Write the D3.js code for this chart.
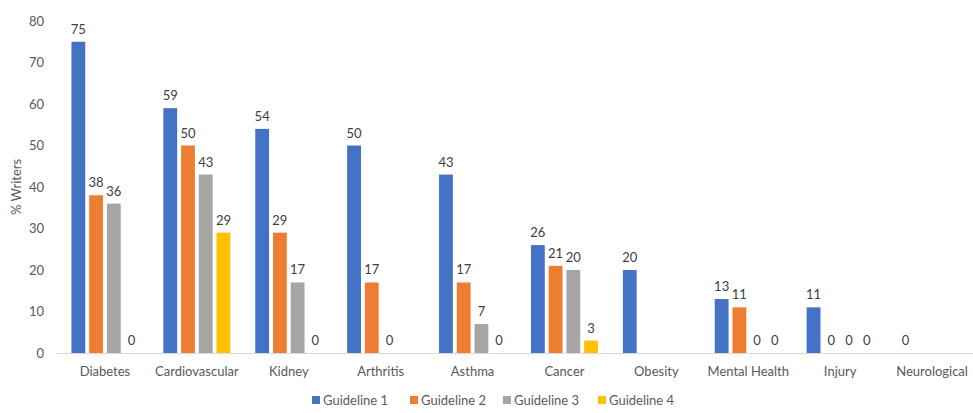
<!DOCTYPE html>
<html><head><meta charset="utf-8">
<script src="https://cdn.jsdelivr.net/npm/d3@7"></script>
<style>body{margin:0;background:#fff}svg{display:block;font-family:Lato,"Open Sans",sans-serif}</style>
</head><body><svg id="c" width="973" height="413"></svg>
<script>
const categories = ["Diabetes","Cardiovascular","Kidney","Arthritis","Asthma","Cancer","Obesity","Mental Health","Injury","Neurological"];
const seriesNames = ["Guideline 1","Guideline 2","Guideline 3","Guideline 4"];
const guideline1 = [75,59,54,50,43,26,20,13,11,0];
const guideline2 = [38,50,29,17,17,21,null,11,0,null];
const guideline3 = [36,43,17,0,7,20,null,0,0,null];
const guideline4 = [0,29,0,null,0,3,null,0,0,null];
const yTicks = [0,10,20,30,40,50,60,70,80];
const colors = ["#4472C4","#ED7D31","#A5A5A5","#FFC000"];
const series = [guideline1,guideline2,guideline3,guideline4];

const svg = d3.select("#c");
const x = d3.scaleBand().domain(categories).range([59,978]);
const xs = d3.scaleBand().domain(seriesNames).range([0,67]).paddingInner(0.22);
const y = d3.scaleLinear().domain([0,80]).range([353,21]);
const x0 = cat => x(cat) + (x.bandwidth()-67)/2;

// y axis labels
const ya = svg.append("g").attr("transform","translate(44,0)")
  .call(d3.axisLeft(y).tickValues(yTicks).tickSize(0).tickPadding(0));
ya.select(".domain").remove();
ya.selectAll("text").attr("font-size",13).attr("fill","#595959").attr("font-family","Lato");

// baseline
svg.append("line").attr("x1",57).attr("x2",973).attr("y1",y(0)+0.5).attr("y2",y(0)+0.5)
  .attr("stroke","#d9d9d9").attr("stroke-width",1);

// bars
series.forEach((vals,si)=>{
  const g = svg.append("g");
  const d = categories.map((c,i)=>({c,v:vals[i]})).filter(e=>e.v!==null);
  g.selectAll("rect").data(d).join("rect")
    .attr("x",e=>x0(e.c)+xs(seriesNames[si]))
    .attr("width",xs.bandwidth())
    .attr("y",e=>y(e.v))
    .attr("height",e=>y(0)-y(e.v))
    .attr("fill",colors[si]);
  g.selectAll("text").data(d).join("text")
    .attr("x",e=>x0(e.c)+xs(seriesNames[si])+xs.bandwidth()/2)
    .attr("y",e=>y(e.v)-8)
    .attr("text-anchor","middle")
    .attr("font-size",13).attr("fill","#404040")
    .text(e=>e.v);
});

// x axis labels
const xa = svg.append("g").attr("transform",`translate(0,${y(0)})`)
  .call(d3.axisBottom(x).tickSize(0).tickPadding(14));
xa.select(".domain").remove();
xa.selectAll("text").attr("font-size",13).attr("fill","#595959").attr("font-family","Lato");

// y title
svg.append("text").attr("transform","translate(21,187) rotate(-90)")
  .attr("text-anchor","middle").attr("font-size",13).attr("fill","#595959").text("% Writers");

// legend
const lx = [312,410,503,598];
seriesNames.forEach((n,i)=>{
  svg.append("rect").attr("x",lx[i]).attr("y",396).attr("width",8).attr("height",8).attr("fill",colors[i]);
  svg.append("text").attr("x",lx[i]+11).attr("y",404.5).attr("font-size",13).attr("fill","#595959").text(n);
});
</script></body></html>
